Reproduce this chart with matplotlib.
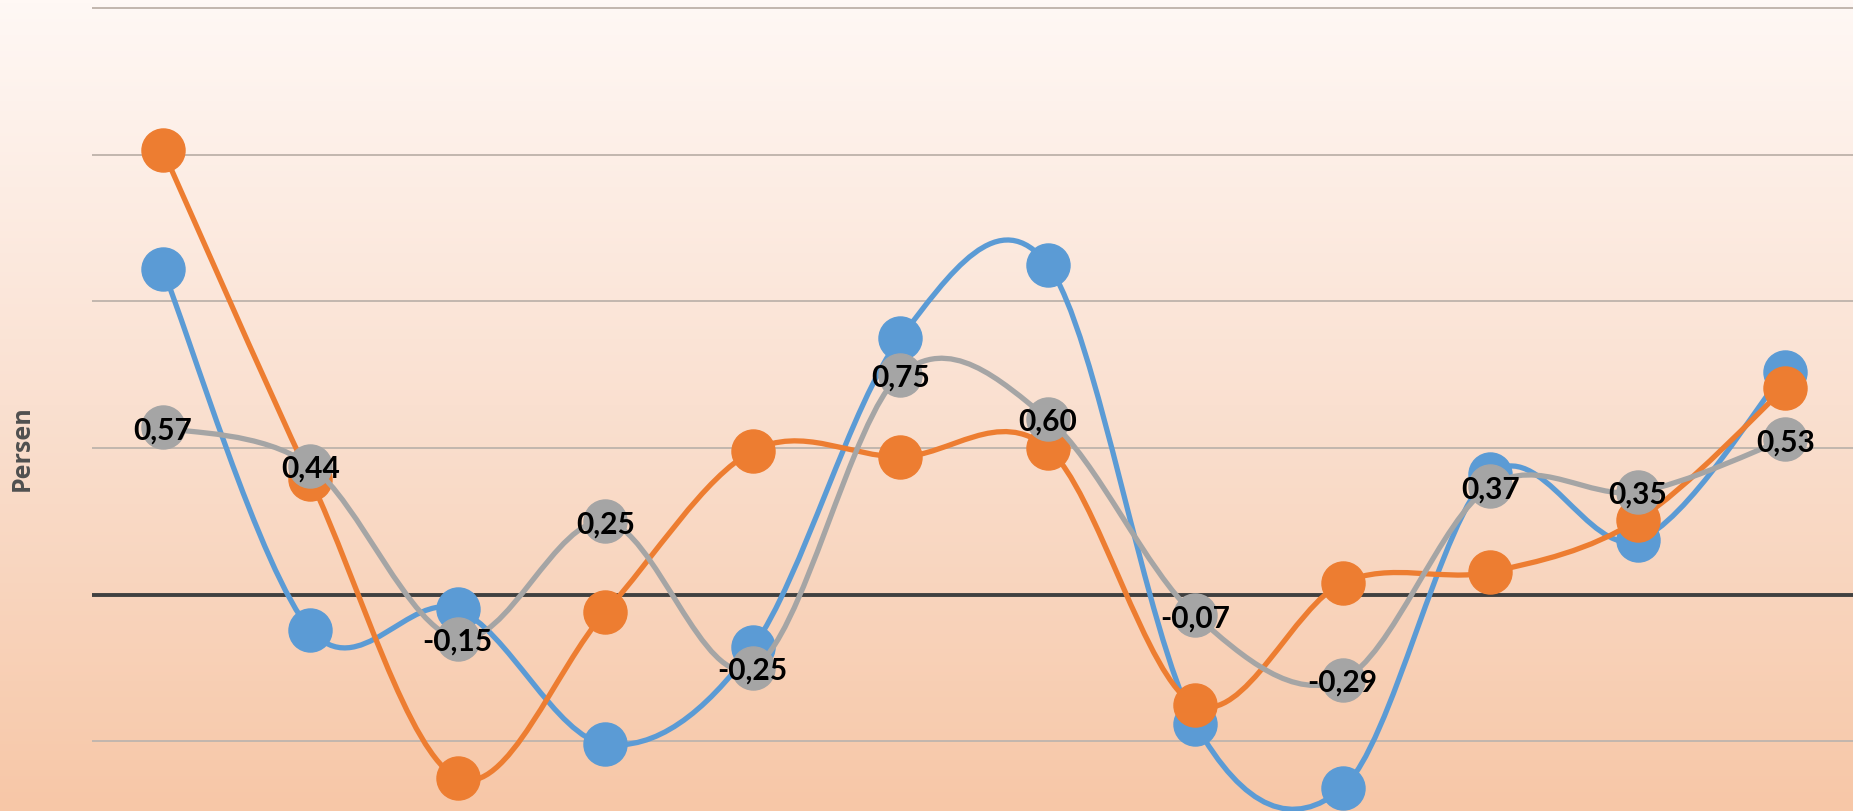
import numpy as np
import matplotlib
matplotlib.use("Agg")
import matplotlib.pyplot as plt
from matplotlib.path import Path
from matplotlib.patches import PathPatch
from matplotlib.colors import LinearSegmentedColormap
from matplotlib.transforms import offset_copy

# ---- data ----
categories = list(range(1, 13))
series_blue = [1.11, -0.12, -0.05, -0.51, -0.18, 0.875, 1.125, -0.44, -0.66, 0.41, 0.185, 0.76]
series_orange = [1.516, 0.395, -0.625, -0.06, 0.49, 0.47, 0.50, -0.375, 0.04, 0.077, 0.254, 0.706]
series_gray = [0.57, 0.44, -0.15, 0.25, -0.25, 0.75, 0.60, -0.07, -0.29, 0.37, 0.35, 0.53]
y_gridlines = [-0.5, 0.5, 1.0, 1.5, 2.0]
y_label = "Persen"

BLUE = "#5B9BD5"
ORANGE = "#ED7D31"
GRAY = "#A5A5A5"

W, H, DPI = 1853, 811, 100
fig = plt.figure(figsize=(W / DPI, H / DPI), dpi=DPI)

# gradient background
bg = fig.add_axes([0, 0, 1, 1], zorder=0)
cmap = LinearSegmentedColormap.from_list("bg", ["#FFF8F5", "#FAE0D0", "#F7C7A7"])
grad = np.linspace(0, 1, 256).reshape(-1, 1)
bg.imshow(grad, aspect="auto", cmap=cmap, extent=[0, 1, 0, 1], origin="upper")
bg.set_axis_off()

left = 92 / W
ax = fig.add_axes([left, 0, 1 - left, 1], zorder=1)
ax.patch.set_alpha(0)
for s in ax.spines.values():
    s.set_visible(False)

x = np.arange(len(categories), dtype=float)
ax.set_xlim(-0.48, 11.46)
ax.set_ylim(-0.738, 2.028)
ax.set_xticks([])
ax.set_yticks(y_gridlines)
ax.tick_params(axis="y", length=0, labelleft=False)
ax.grid(axis="y", color="#C2B6AE", linewidth=1.4, zorder=0.5)
ax.axhline(0, color="#404040", linewidth=2.8, zorder=0.8)


def smooth_path(xs, ys):
    pts = np.column_stack([xs, ys])
    n = len(pts)
    verts = [pts[0]]
    codes = [Path.MOVETO]
    for i in range(n - 1):
        p0 = pts[i - 1] if i > 0 else pts[i]
        p1 = pts[i]
        p2 = pts[i + 1]
        p3 = pts[i + 2] if i + 2 < n else pts[i + 1]
        c1 = p1 + (p2 - p0) / 6.0
        c2 = p2 - (p3 - p1) / 6.0
        verts += [c1, c2, p2]
        codes += [Path.CURVE4] * 3
    return Path(np.array(verts), codes)


z = 2
for vals, col in [(series_blue, BLUE), (series_orange, ORANGE), (series_gray, GRAY)]:
    patch = PathPatch(smooth_path(x, np.array(vals)), fill=False, edgecolor=col,
                      linewidth=3.8, capstyle="round", joinstyle="round", zorder=z)
    ax.add_patch(patch)
    ax.plot(x, vals, linestyle="none", marker="o", markersize=31,
            markerfacecolor=col, markeredgecolor=col, zorder=z + 0.5)
    z += 1

label_tr = offset_copy(ax.transData, fig=fig, x=0, y=-3, units="dots")
for xi, v in zip(x, series_gray):
    ax.text(xi, v, f"{v:.2f}".replace(".", ","), ha="center", va="center",
            fontsize=21.5, fontweight="bold", family=["Lato", "DejaVu Sans"],
            color="black", zorder=10, transform=label_tr)

fig.text(22 / W, 1 - 448 / H, y_label, rotation=90, ha="center", va="center",
         fontsize=18, fontweight="bold", family=["Open Sans", "DejaVu Sans"], color="#505050")

fig.savefig("out.png", dpi=DPI)
